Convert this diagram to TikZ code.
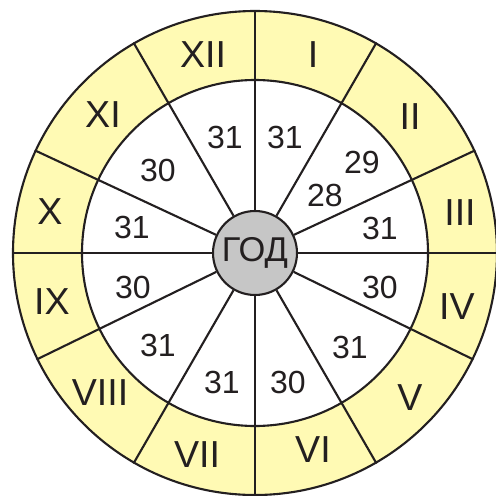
\documentclass[tikz,border=0pt]{standalone}
\usepackage{fontspec}
\setmainfont{Liberation Sans}
\usepackage{xcolor}
\definecolor{clink}{HTML}{231F20}
\definecolor{clyellow}{HTML}{FFFAB4}
\definecolor{clgrey}{HTML}{C6C6C6}
\usetikzlibrary{positioning}
\tikzset{
  clring/.style ={circle, draw=clink, line width=0.6pt, inner sep=0pt},
  clspoke/.style={draw=clink, line width=0.6pt},
  clmonth/.style={font=\fontsize{10.7}{12}\selectfont, text=clink, inner sep=0pt},
  cldays/.style ={font=\fontsize{9.1}{11}\selectfont, text=clink, inner sep=0pt},
}
\begin{document}
\begin{tikzpicture}
  \useasboundingbox (-2.55,-2.43) rectangle (2.41,2.53);
  \node[clring, fill=clyellow, minimum size=4.84cm] (ring) at (0,0) {};
  \node[clring, fill=white, minimum size=3.46cm] (disc) at (0,0) {};
  \node[clring, fill=clgrey, minimum size=0.84cm,
        font=\fontsize{9.8}{11}\selectfont, text=clink] (god) at (0,0) {ГОД};
  \foreach \a in {0,25,60,90,120,155,180,206,240,270,300,334}{
    \draw[clspoke] (god.\a) -- (ring.\a);}
  % months
  \foreach \x/\y/\m [count=\i] in {0.58/1.98/I, 1.55/1.36/II, 2.05/0.40/III,
      2.02/-0.54/IV, 1.55/-1.45/V, 0.58/-1.97/VI, -0.58/-2.02/VII,
      -1.55/-1.40/VIII, -2.03/-0.49/IX, -2.05/0.41/X, -1.52/1.38/XI,
      -0.52/1.98/XII}{
    \node[clmonth] (m\i) at (\x,\y) {\m};}
  % days
  \foreach \x/\y/\d [count=\i] in {0.30/1.16/31, 1.07/0.91/29, 0.70/0.58/28,
      1.25/0.25/31, 1.25/-0.34/30, 0.95/-0.94/31, 0.33/-1.29/30,
      -0.33/-1.29/31, -0.97/-0.92/31, -1.22/-0.34/30, -1.23/0.26/31,
      -0.97/0.83/30, -0.30/1.16/31}{
    \node[cldays] (d\i) at (\x,\y) {\d};}
\end{tikzpicture}
\end{document}
